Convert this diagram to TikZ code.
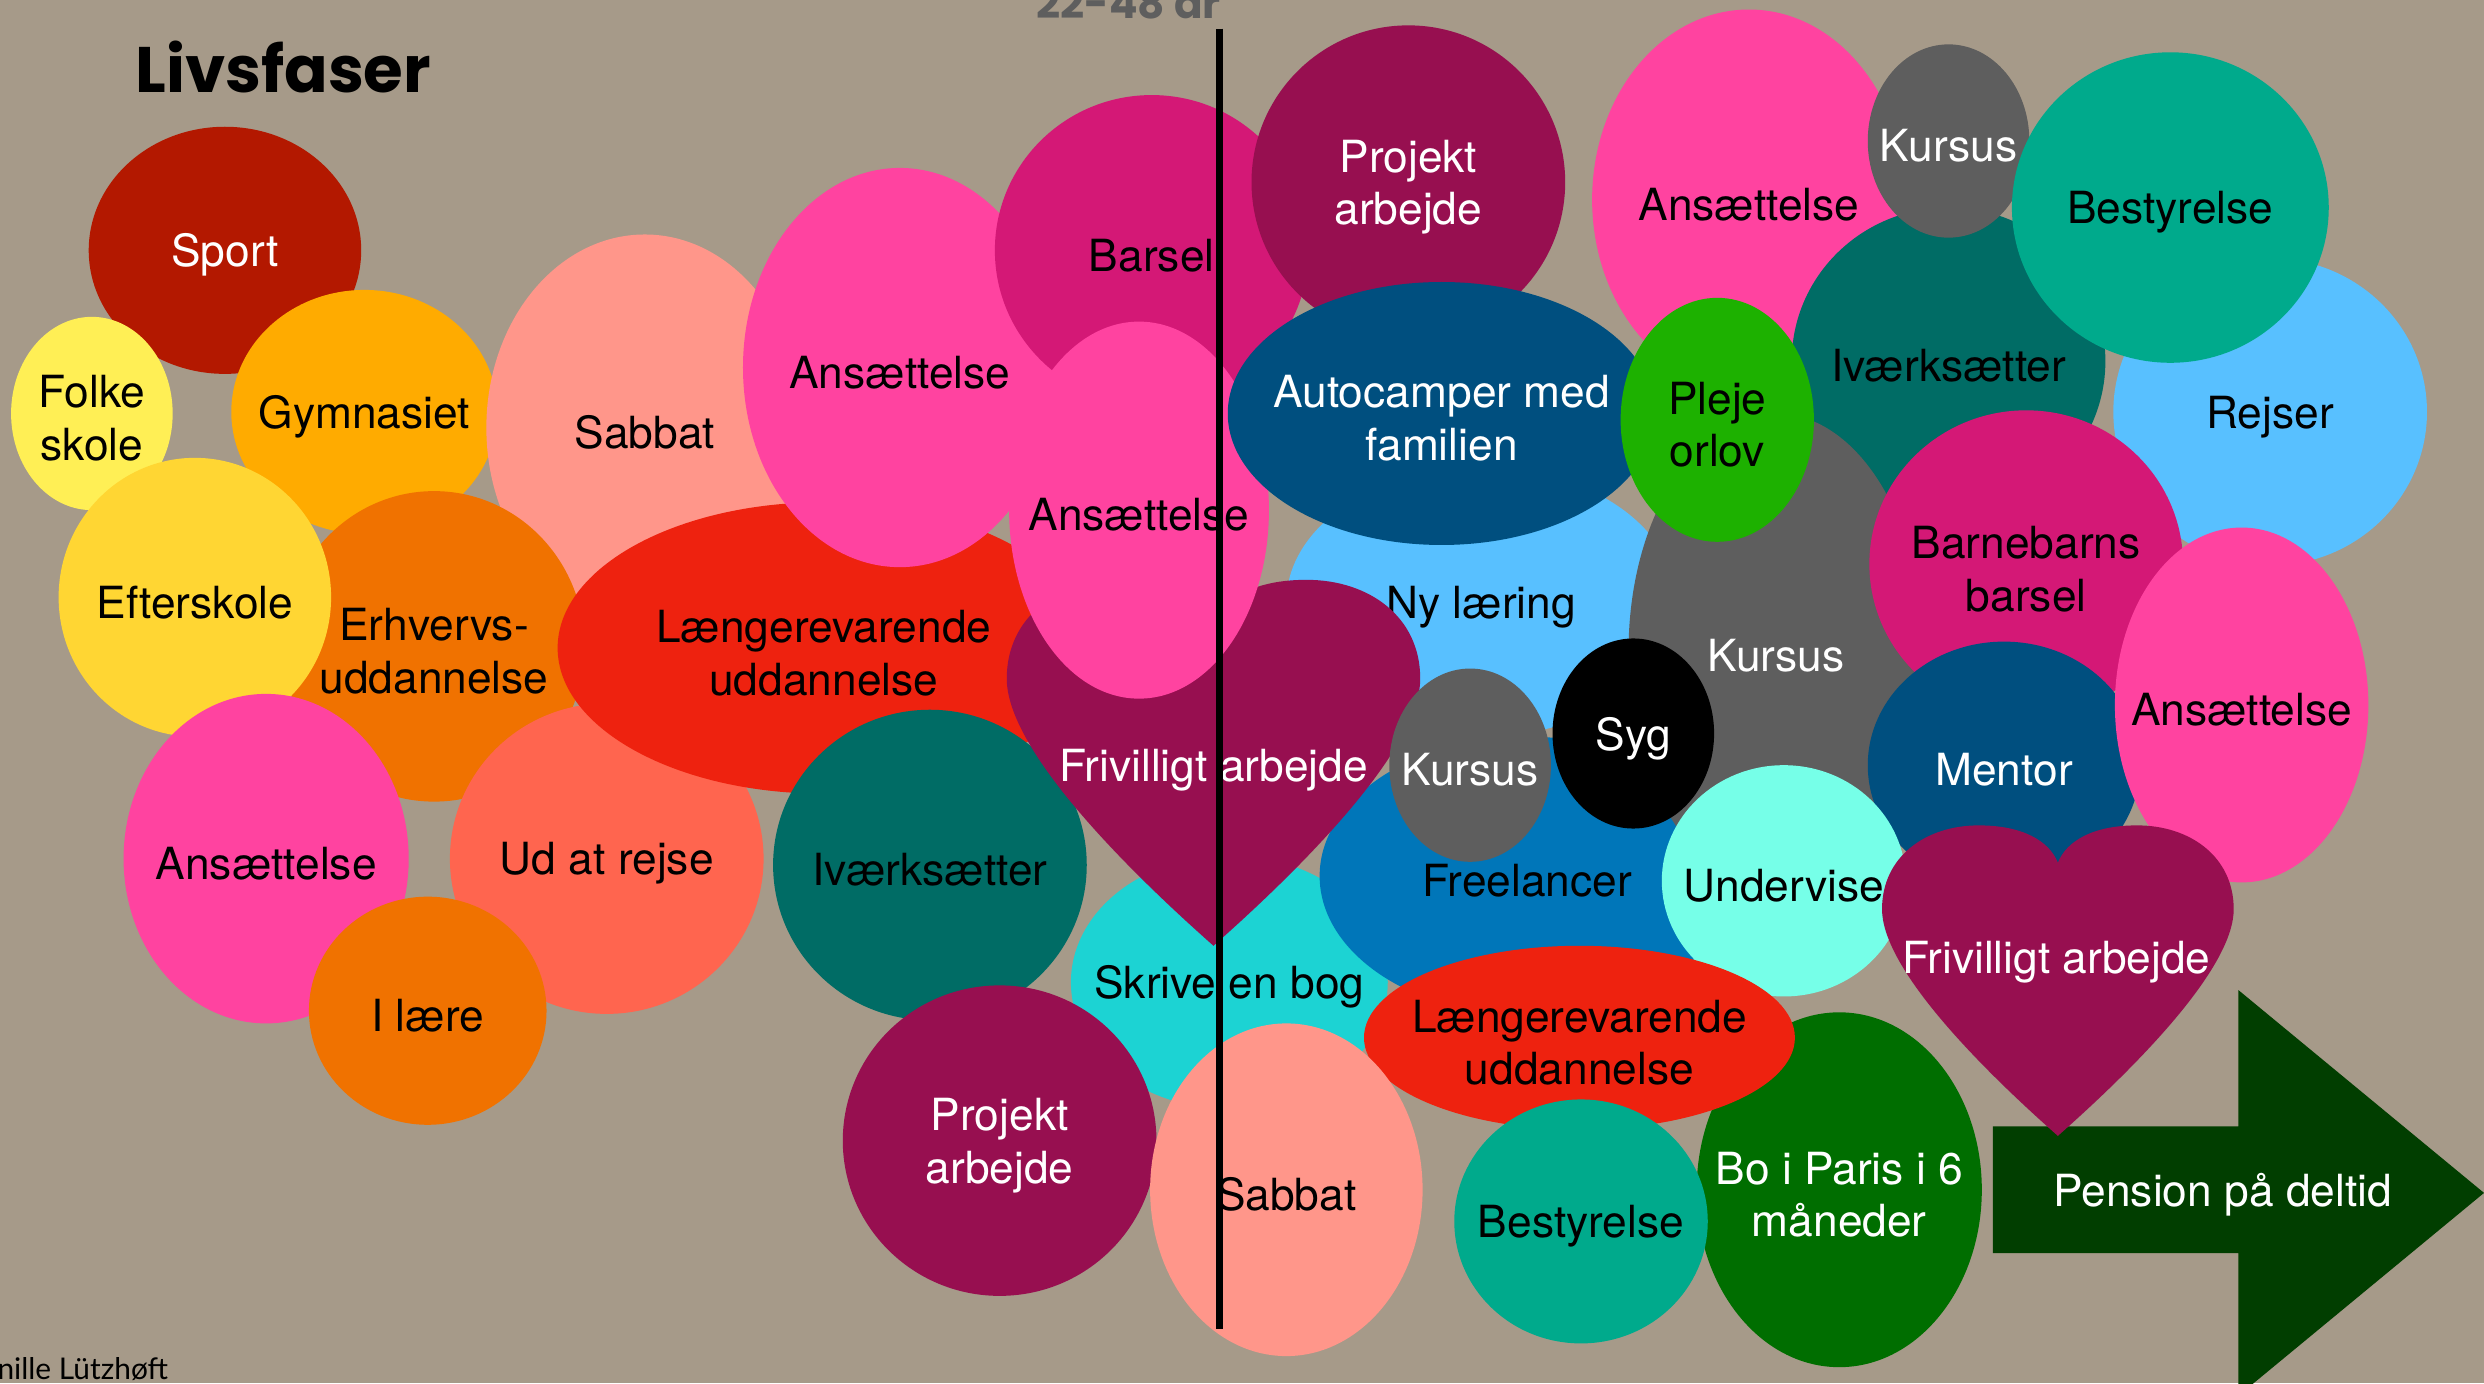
\documentclass[tikz,border=0pt]{standalone}
\usepackage{fontspec}
\setmainfont{TeX Gyre Heros}
\newfontfamily\titlefont{Poppins}
\newfontfamily\signfont{Lato}
\usepackage{tikz}
\usetikzlibrary{calc}
\definecolor{bg}{RGB}{166,154,137}
\definecolor{sportred}{RGB}{179,24,0}
\definecolor{folkeyellow}{RGB}{255,239,85}
\definecolor{gymorange}{RGB}{255,171,0}
\definecolor{salmon}{RGB}{255,150,138}
\definecolor{eduorange}{RGB}{240,114,0}
\definecolor{efteryellow}{RGB}{255,214,51}
\definecolor{longred}{RGB}{238,34,15}
\definecolor{jobpink}{RGB}{255,67,160}
\definecolor{barselmag}{RGB}{212,24,118}
\definecolor{plum}{RGB}{151,15,80}
\definecolor{coral}{RGB}{255,101,79}
\definecolor{startteal}{RGB}{0,108,101}
\definecolor{bookcyan}{RGB}{28,211,211}
\definecolor{navy}{RGB}{0,79,127}
\definecolor{sky}{RGB}{88,192,255}
\definecolor{course}{RGB}{94,94,94}
\definecolor{freeblue}{RGB}{0,118,185}
\definecolor{aqua}{RGB}{118,255,232}
\definecolor{board}{RGB}{0,170,140}
\definecolor{paris}{RGB}{0,110,0}
\definecolor{care}{RGB}{29,177,0}
\definecolor{pensiongreen}{RGB}{1,62,0}
\definecolor{agegray}{RGB}{94,94,94}

\tikzset{heart/.pic={
    \fill[pic actions] (0,1) .. controls (-0.5,0.75) and (-1,0.45) .. (-1,0.27)
      .. controls (-1,0.1) and (-0.75,0) .. (-0.45,0)
      .. controls (-0.2,0) and (-0.05,0.05) .. (0,0.12)
      .. controls (0.05,0.05) and (0.2,0) .. (0.45,0)
      .. controls (0.75,0) and (1,0.1) .. (1,0.27)
      .. controls (1,0.45) and (0.5,0.75) .. (0,1) -- cycle;
}}

\begin{document}
\begin{tikzpicture}[x=0.015842cm, y=-0.015842cm,
    lbl/.style={font=\fontsize{12.6}{15}\selectfont, align=center, inner sep=0pt,
        text=black, yshift=-1.4pt},
    lblw/.style={lbl, text=white}]
    \path[use as bounding box, fill=bg] (0,0) rectangle (1568,873);
    \clip (0,0) rectangle (1568,873);

    % early phases
    \fill[sportred] (142,158) ellipse [x radius=86, y radius=78] node[lblw] (sport) {Sport};
    \fill[folkeyellow] (58,261) ellipse [x radius=51, y radius=61] node[lbl] (folke) {Folke\\skole};
    \fill[gymorange] (230,260) ellipse [x radius=84, y radius=77] node[lbl] (gym) {Gymnasiet};
    \fill[salmon] (407,270) ellipse [x radius=100, y radius=122] node[lbl] (sabbat1) {Sabbat};
    \fill[eduorange] (274,408) ellipse [x radius=95, y radius=98] node[lbl] (erhverv) {Erhvervs-\\uddannelse};
    \fill[efteryellow] (123,377) ellipse [x radius=86, y radius=88] node[lbl] (efter) {Efterskole};
    \fill[coral] (383,542) ellipse [x radius=99, y radius=98] node[lbl] (rejse) {Ud at rejse};
    \fill[jobpink] (168,542) ellipse [x radius=90, y radius=104] node[lbl] (ansat1) {Ansættelse};
    \fill[eduorange] (270,638) ellipse [x radius=75, y radius=72] node[lbl] (laere) {I lære};
    \fill[longred] (520,409) ellipse [x radius=168, y radius=92] node[lbl] (laenger1) {Længerevarende\\uddannelse};
    \fill[jobpink] (568,232) ellipse [x radius=99, y radius=126] node[lbl] (ansat2) {Ansættelse};
    \fill[bookcyan] (776,620) ellipse [x radius=100, y radius=80] node[lbl] (bog) {Skrive en bog};
    \fill[startteal] (587,546) ellipse [x radius=99, y radius=98] node[lbl] (start1) {Iværksætter};

    % middle phases
    \fill[barselmag] (727,158) ellipse [x radius=99, y radius=98] node[lbl] (barsel) {Barsel};
    \fill[freeblue] (964,553) ellipse [x radius=131, y radius=88] node[lbl] (free) {Freelancer};
    \fill[sky] (935,380) ellipse [x radius=123, y radius=85] node[lbl] (ny) {Ny læring};
    \pic[fill=plum, xscale=130.5, yscale=231] at (766,366) {heart};
    \node[lblw] (friv1) at (766,483) {Frivilligt arbejde};
    \fill[jobpink] (719,322) ellipse [x radius=82, y radius=119] node[lbl] (ansat3) {Ansættelse};
    \fill[plum] (889,115) ellipse [x radius=99, y radius=99] node[lblw] (projekt1) {Projekt\\arbejde};
    \fill[navy] (910,261) ellipse [x radius=135, y radius=83] node[lblw] (auto) {Autocamper med\\familien};
    \fill[jobpink] (1104,126) ellipse [x radius=99, y radius=120] node[lbl] (ansat4) {Ansættelse};
    \fill[startteal] (1230,228) ellipse [x radius=99, y radius=97] node[lbl] (start2) {Iværksætter};
    \fill[course] (1230,89) ellipse [x radius=51, y radius=61] node[lblw] (kursus1) {Kursus};
    \fill[sky] (1433,260) ellipse [x radius=99, y radius=97] node[lbl] (rejser) {Rejser};
    \fill[board] (1370,131) ellipse [x radius=100, y radius=98] node[lbl] (best1) {Bestyrelse};
    \fill[course] (1121,411) ellipse [x radius=93, y radius=150] node[lblw] (kursus2) {Kursus};
    \fill[care] (1084,265) ellipse [x radius=61, y radius=77] node[lbl] (pleje) {Pleje\\orlov};
    \fill[barselmag] (1279,356) ellipse [x radius=99, y radius=97] node[lbl] (barne) {Barnebarns\\barsel};
    \fill[course] (928,483) ellipse [x radius=51, y radius=61] node[lblw] (kursus3) {Kursus};
    \fill[black] (1031,463) ellipse [x radius=51, y radius=60] node[lblw] (syg) {Syg};
    \fill[navy] (1265,483) ellipse [x radius=86, y radius=78] node[lblw] (mentor) {Mentor};
    \fill[jobpink] (1415,445) ellipse [x radius=80, y radius=112] node[lbl] (ansat5) {Ansættelse};
    \fill[aqua] (1126,556) ellipse [x radius=77, y radius=73] node[lbl] (under) {Undervise};

    % late phases
    \fill[paris] (1161,751) ellipse [x radius=90, y radius=112] node[lblw] (paris) {Bo i Paris i 6\\måneder};
    \fill[longred] (997,655) ellipse [x radius=136, y radius=58] node[lbl] (laenger2) {Længerevarende\\uddannelse};
    \fill[board] (998,771) ellipse [x radius=80, y radius=77] node[lbl] (best2) {Bestyrelse};
    \fill[plum] (631,720) ellipse [x radius=99, y radius=98] node[lblw] (projekt2) {Projekt\\arbejde};
    \fill[salmon] (812,751) ellipse [x radius=86, y radius=105] node[lbl] (sabbat2) {Sabbat};

    % pension arrow
    \fill[pensiongreen] (1258,711) -- (1413,711) -- (1413,625) -- (1568,753)
        -- (1413,881) -- (1413,791) -- (1258,791) -- cycle;
    \node[lblw] (pension) at (1403,751) {Pension på deltid};
    \pic[fill=plum, xscale=111, yscale=196] at (1299,521) {heart};
    \node[lblw] (friv2) at (1298,604) {Frivilligt arbejde};

    % age marker
    \draw[line width=2pt] (769.5,18) -- (769.5,839);
    \node[anchor=base west, inner sep=0pt, text=agegray,
        font=\titlefont\bfseries\fontsize{12}{14}\selectfont] (alder) at (654,11.5) {22-48 år};

    \node[anchor=base west, inner sep=0pt,
        font=\titlefont\bfseries\fontsize{18.3}{22}\selectfont] (titel) at (85,58.5) {Livsfaser};
    \node[anchor=base west, inner sep=0pt,
        font=\signfont\fontsize{8.5}{10}\selectfont] (navn) at (-2,871) {nille Lützhøft};
\end{tikzpicture}
\end{document}
